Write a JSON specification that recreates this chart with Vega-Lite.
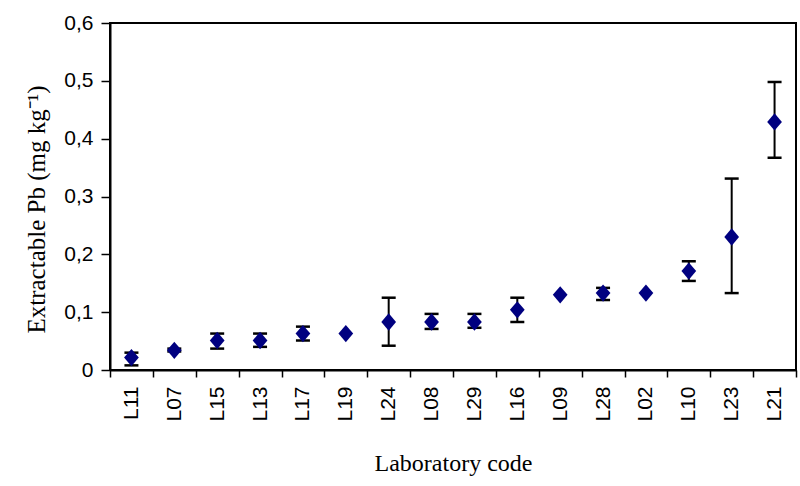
{
  "$schema": "https://vega.github.io/schema/vega-lite/v6.json",
  "autosize": "none",
  "width": 686,
  "height": 347,
  "padding": {"left": 110, "top": 23, "right": 4, "bottom": 116},
  "background": "white",
  "config": {
    "view": {"stroke": "black", "strokeWidth": 2},
    "axis": {"grid": false, "domainColor": "black", "domainWidth": 2, "tickColor": "black", "tickWidth": 1.5, "labelColor": "black", "titleColor": "black"}
  },
  "data": {
    "values": [
      {"lab": "L11", "value": 0.0215, "low": 0.008, "high": 0.030},
      {"lab": "L07", "value": 0.034, "low": 0.032, "high": 0.037},
      {"lab": "L15", "value": 0.051, "low": 0.037, "high": 0.063},
      {"lab": "L13", "value": 0.051, "low": 0.040, "high": 0.063},
      {"lab": "L17", "value": 0.063, "low": 0.051, "high": 0.075},
      {"lab": "L19", "value": 0.063, "low": null, "high": null},
      {"lab": "L24", "value": 0.083, "low": 0.042, "high": 0.125},
      {"lab": "L08", "value": 0.083, "low": 0.071, "high": 0.097},
      {"lab": "L29", "value": 0.083, "low": 0.073, "high": 0.097},
      {"lab": "L16", "value": 0.104, "low": 0.083, "high": 0.125},
      {"lab": "L09", "value": 0.130, "low": null, "high": null},
      {"lab": "L28", "value": 0.133, "low": 0.121, "high": 0.142},
      {"lab": "L02", "value": 0.133, "low": null, "high": null},
      {"lab": "L10", "value": 0.171, "low": 0.154, "high": 0.188},
      {"lab": "L23", "value": 0.230, "low": 0.133, "high": 0.331},
      {"lab": "L21", "value": 0.429, "low": 0.367, "high": 0.498}
    ]
  },
  "encoding": {
    "x": {
      "field": "lab", "type": "nominal",
      "sort": ["L11", "L07", "L15", "L13", "L17", "L19", "L24", "L08", "L29", "L16", "L09", "L28", "L02", "L10", "L23", "L21"],
      "scale": {"paddingInner": 0, "paddingOuter": 0},
      "axis": {
        "title": "Laboratory code", "labelAngle": -90, "labelFont": "Liberation Sans", "labelFontSize": 21,
        "labelPadding": 9, "tickSize": 7, "tickBand": "extent",
        "titleFont": "Liberation Serif", "titleFontSize": 24, "titleFontWeight": "normal", "titlePadding": 30
      }
    }
  },
  "layer": [
    {
      "transform": [{"filter": "datum.low != null"}],
      "mark": {"type": "rule", "color": "black", "strokeWidth": 2},
      "encoding": {
        "y": {"field": "low", "type": "quantitative"},
        "y2": {"field": "high"}
      }
    },
    {
      "transform": [{"filter": "datum.low != null"}],
      "mark": {"type": "tick", "color": "black", "size": 14, "thickness": 2.5, "opacity": 1},
      "encoding": {"y": {"field": "low", "type": "quantitative"}}
    },
    {
      "transform": [{"filter": "datum.high != null"}],
      "mark": {"type": "tick", "color": "black", "size": 14, "thickness": 2.5, "opacity": 1},
      "encoding": {"y": {"field": "high", "type": "quantitative"}}
    },
    {
      "mark": {"type": "point", "shape": "M-0.85,0L0,-1L0.85,0L0,1Z", "filled": true, "color": "#000080", "size": 300, "opacity": 1},
      "encoding": {
        "y": {
          "field": "value", "type": "quantitative",
          "scale": {"domain": [0, 0.6], "nice": false},
          "axis": {
            "title": "Extractable Pb (mg kg⁻¹)", "values": [0, 0.1, 0.2, 0.3, 0.4, 0.5, 0.6],
            "labelExpr": "datum.value == 0 ? '0' : replace(format(datum.value, '.1f'), '.', ',')",
            "labelFont": "Liberation Sans", "labelFontSize": 21, "labelPadding": 8, "tickSize": 9,
            "titleFont": "Liberation Serif", "titleFontSize": 25, "titleFontWeight": "normal", "titlePadding": 14,
            "titleY": 186
          }
        }
      }
    }
  ]
}
